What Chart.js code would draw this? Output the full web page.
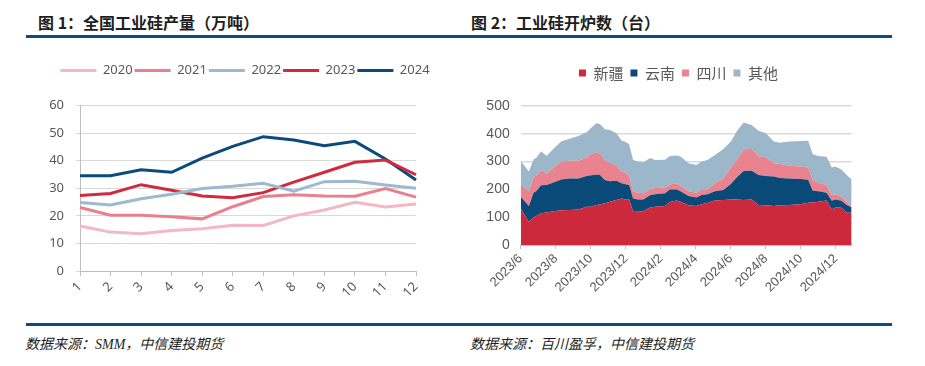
<!DOCTYPE html>
<html>
<head>
<meta charset="utf-8">
<script src="https://cdn.jsdelivr.net/npm/chart.js@4.4.1/dist/chart.umd.min.js"></script>
<style>
  body { margin: 0; width: 925px; height: 366px; background: #fff; position: relative; overflow: hidden; font-family: "Noto Sans CJK SC", sans-serif; }
  .title { position: absolute; top: 13px; font-size: 16px; font-weight: bold; color: #1e1e1e; line-height: 18px; white-space: nowrap; }
  .rule { position: absolute; left: 26px; width: 866px; height: 3px; background: #0e4c7b; }
  .src { position: absolute; top: 333px; font-size: 14px; font-style: italic; font-family: "Liberation Serif", "Noto Sans CJK SC", serif; color: #1e1e1e; white-space: nowrap; }
  canvas { position: absolute; }
</style>
</head>
<body>
<div class="title" style="left:38px">图 1：全国工业硅产量（万吨）</div>
<div class="title" style="left:471px">图 2：工业硅开炉数（台）</div>
<div class="rule" style="top:35px"></div>
<canvas id="output" width="420" height="265" style="left:20px;top:50px"></canvas>
<canvas id="furnaces" width="420" height="265" style="left:460px;top:50px"></canvas>
<div class="rule" style="top:323px"></div>
<div class="src" style="left:25px">数据来源：SMM，中信建投期货</div>
<div class="src" style="left:470px">数据来源：百川盈孚，中信建投期货</div>

<script>
// 图1 全国工业硅产量（万吨）
const months = ['1', '2', '3', '4', '5', '6', '7', '8', '9', '10', '11', '12']
const years = ['2020', '2021', '2022', '2023', '2024']
const output2020 = [16.3, 14.1, 13.5, 14.7, 15.3, 16.6, 16.5, 20.0, 22.1, 24.9, 23.2, 24.3]
const output2021 = [23.0, 20.2, 20.2, 19.7, 18.9, 23.3, 27.0, 27.6, 27.2, 27.1, 29.9, 26.8]
const output2022 = [24.8, 23.9, 26.2, 27.8, 29.9, 30.7, 31.8, 28.9, 32.4, 32.5, 31.2, 30.0]
const output2023 = [27.4, 28.1, 31.3, 29.3, 27.2, 26.6, 28.4, 32.2, 35.8, 39.4, 40.2, 34.9]
const output2024 = [34.5, 34.5, 36.7, 35.8, 40.9, 45.2, 48.7, 47.5, 45.4, 47.0, 40.6, 33.0]
const yearColors = ['#f4b8c4', '#e8808f', '#9db9cf', '#d02a3e', '#0b4a7e']

// 图2 工业硅开炉数（台）
const weekDates = [
    '2023-06-01', '2023-06-15', '2023-06-23', '2023-06-28', '2023-07-06', '2023-07-16', '2023-07-28',
    '2023-08-11', '2023-08-26', '2023-09-10', '2023-09-24', '2023-10-02', '2023-10-11', '2023-10-17',
    '2023-10-26', '2023-11-04', '2023-11-15', '2023-11-24', '2023-11-29', '2023-12-07', '2023-12-14',
    '2023-12-23', '2024-01-01', '2024-01-13', '2024-01-22', '2024-02-08', '2024-02-16', '2024-02-27',
    '2024-03-05', '2024-03-19', '2024-04-02', '2024-04-11', '2024-04-21', '2024-05-04', '2024-05-19',
    '2024-06-01', '2024-06-11', '2024-06-23', '2024-07-07', '2024-07-19', '2024-08-01', '2024-08-15',
    '2024-08-26', '2024-09-12', '2024-09-30', '2024-10-14', '2024-10-22', '2024-11-01', '2024-11-15',
    '2024-11-24', '2024-11-30', '2024-12-11', '2024-12-20', '2024-12-29'
]
const xinjiang = [131, 84, 100, 104, 114, 117, 121, 125, 126, 128, 138, 138, 144, 146, 150, 156, 162, 167, 165, 165, 120,
    120, 121, 135, 138, 140, 155, 160, 156, 143, 140, 147, 152, 160, 162, 164, 164, 162, 164, 144, 143, 140,
    143, 144, 147, 152, 153, 156, 160, 128, 135, 134, 116, 116]
const yunnan = [43, 56, 88, 90, 101, 99, 104, 111, 113, 111, 110, 113, 109, 107, 84, 73, 69, 55, 54, 51, 47,
    44, 43, 44, 45, 46, 45, 40, 37, 33, 31, 33, 31, 33, 36, 55, 79, 104, 103, 108, 105, 106,
    98, 95, 90, 83, 42, 37, 28, 31, 29, 25, 28, 19]
const sichuan = [45, 52, 58, 55, 55, 39, 54, 64, 64, 64, 67, 78, 79, 77, 72, 67, 54, 42, 42, 33, 25,
    24, 22, 21, 22, 20, 18, 22, 20, 17, 17, 20, 17, 29, 42, 59, 63, 78, 78, 68, 67, 48,
    50, 46, 45, 44, 39, 31, 28, 21, 19, 15, 12, 3]
const others = [83, 72, 62, 65, 67, 66, 67, 73, 79, 89, 91, 93, 106, 105, 110, 118, 117, 111, 111, 113, 114,
    112, 111, 113, 101, 101, 102, 100, 105, 101, 100, 100, 106, 102, 105, 94, 102, 97, 87, 91, 87, 78,
    77, 87, 92, 96, 92, 96, 101, 99, 99, 98, 96, 98]
const regions = ['新疆', '云南', '四川', '其他']
const regionColors = ['#cc2a3c', '#0a4a78', '#e8838f', '#9db7ca']
const furnaceTickLabels = ['2023/6', '2023/8', '2023/10', '2023/12', '2024/2', '2024/4', '2024/6', '2024/8', '2024/10', '2024/12']

const tickColor = '#595959'

// months since 2023/6, so the weekly points sit on a date-like linear axis
const monthOffset = (s) => {
    const [y, m, d] = s.split('-').map(Number)
    const days = new Date(y, m, 0).getDate()
    return (y - 2023) * 12 + (m - 6) + (d - 1) / days
}

// fixed legend height (so the plot top lines up) and a sideways nudge of the legend row
const legendPlace = {
    id: 'legendPlace',
    beforeLayout(chart, args, opts) {
        const legend = chart.legend
        if (!legend || legend._fixed) return
        const fit = legend.fit
        legend.fit = function () { fit.call(this); this.height = opts.height }
        legend._fixed = true
    },
    afterLayout(chart, args, opts) {
        const legend = chart.legend
        if (!legend) return
        legend.left += opts.shift
        legend.right += opts.shift
    }
}

new Chart(document.getElementById('output'), {
    type: 'line',
    data: {
        labels: months,
        datasets: [output2020, output2021, output2022, output2023, output2024].map((vals, i) => ({
            label: years[i],
            data: vals,
            borderColor: yearColors[i],
            backgroundColor: yearColors[i],
            borderWidth: 3,
            pointRadius: 0,
            tension: 0,
            pointStyle: 'line'
        }))
    },
    plugins: [legendPlace],
    options: {
        responsive: false,
        animation: false,
        events: [],
        layout: { padding: { top: 12, left: 0, right: 24, bottom: 0 } },
        plugins: {
            legendPlace: { height: 43.5, shift: 27 },
            legend: {
                display: true,
                labels: {
                    usePointStyle: true,
                    pointStyleWidth: 36,
                    boxHeight: 3,
                    padding: 2,
                    color: tickColor,
                    font: { family: 'Noto Sans', size: 13 }
                }
            },
            tooltip: { enabled: false }
        },
        scales: {
            x: {
                afterFit: (s) => { s.height = 44 },
                grid: { drawOnChartArea: false, tickLength: 5, color: '#bfbfbf' },
                border: { color: '#bfbfbf' },
                ticks: {
                    color: tickColor, font: { family: 'Noto Sans', size: 13 },
                    maxRotation: 45, minRotation: 45, padding: 3, autoSkip: false
                }
            },
            y: {
                min: 0, max: 60,
                afterFit: (s) => { s.width = 60 },
                grid: { color: '#d9d9d9', tickLength: 4 },
                border: { color: '#bfbfbf' },
                ticks: { stepSize: 10, color: tickColor, font: { family: 'Noto Sans', size: 13 }, padding: 12 }
            }
        }
    }
})

const weekX = weekDates.map(monthOffset)

new Chart(document.getElementById('furnaces'), {
    type: 'line',
    data: {
        datasets: [xinjiang, yunnan, sichuan, others].map((vals, i) => ({
            label: regions[i],
            data: vals.map((v, j) => ({ x: weekX[j], y: v })),
            backgroundColor: regionColors[i],
            borderColor: regionColors[i],
            borderWidth: 0,
            pointRadius: 0,
            tension: 0,
            fill: i === 0 ? 'origin' : '-1'
        }))
    },
    plugins: [legendPlace],
    options: {
        responsive: false,
        animation: false,
        events: [],
        layout: { padding: { top: 8.5, left: 0, right: 28.3, bottom: 0 } },
        plugins: {
            legendPlace: { height: 47.5, shift: 22.6 },
            legend: {
                display: true,
                labels: {
                    boxWidth: 7,
                    boxHeight: 7,
                    padding: 7,
                    color: tickColor,
                    font: { family: 'Noto Sans CJK SC', size: 15 }
                }
            },
            filler: { propagate: false },
            tooltip: { enabled: false }
        },
        scales: {
            x: {
                type: 'linear',
                min: 0,
                max: weekX[weekX.length - 1],
                afterFit: (s) => { s.height = 70 },
                afterBuildTicks: (s) => { s.ticks = furnaceTickLabels.map((_, i) => ({ value: i * 2 })) },
                grid: { drawOnChartArea: false, tickLength: 4, color: '#bfbfbf' },
                border: { color: '#bfbfbf' },
                ticks: {
                    color: tickColor, font: { family: 'Liberation Sans', size: 13 },
                    maxRotation: 45, minRotation: 45, padding: 2, autoSkip: false,
                    callback: (v) => furnaceTickLabels[Math.round(v / 2)]
                }
            },
            y: {
                stacked: true,
                min: 0, max: 500,
                afterFit: (s) => { s.width = 60.7 },
                grid: { color: '#d9d9d9', lineWidth: 1.5, drawTicks: false },
                border: { display: false },
                ticks: { stepSize: 50, color: tickColor, font: { family: 'Liberation Sans', size: 14 }, padding: 11 }
            }
        }
    }
})
</script>
</body>
</html>
